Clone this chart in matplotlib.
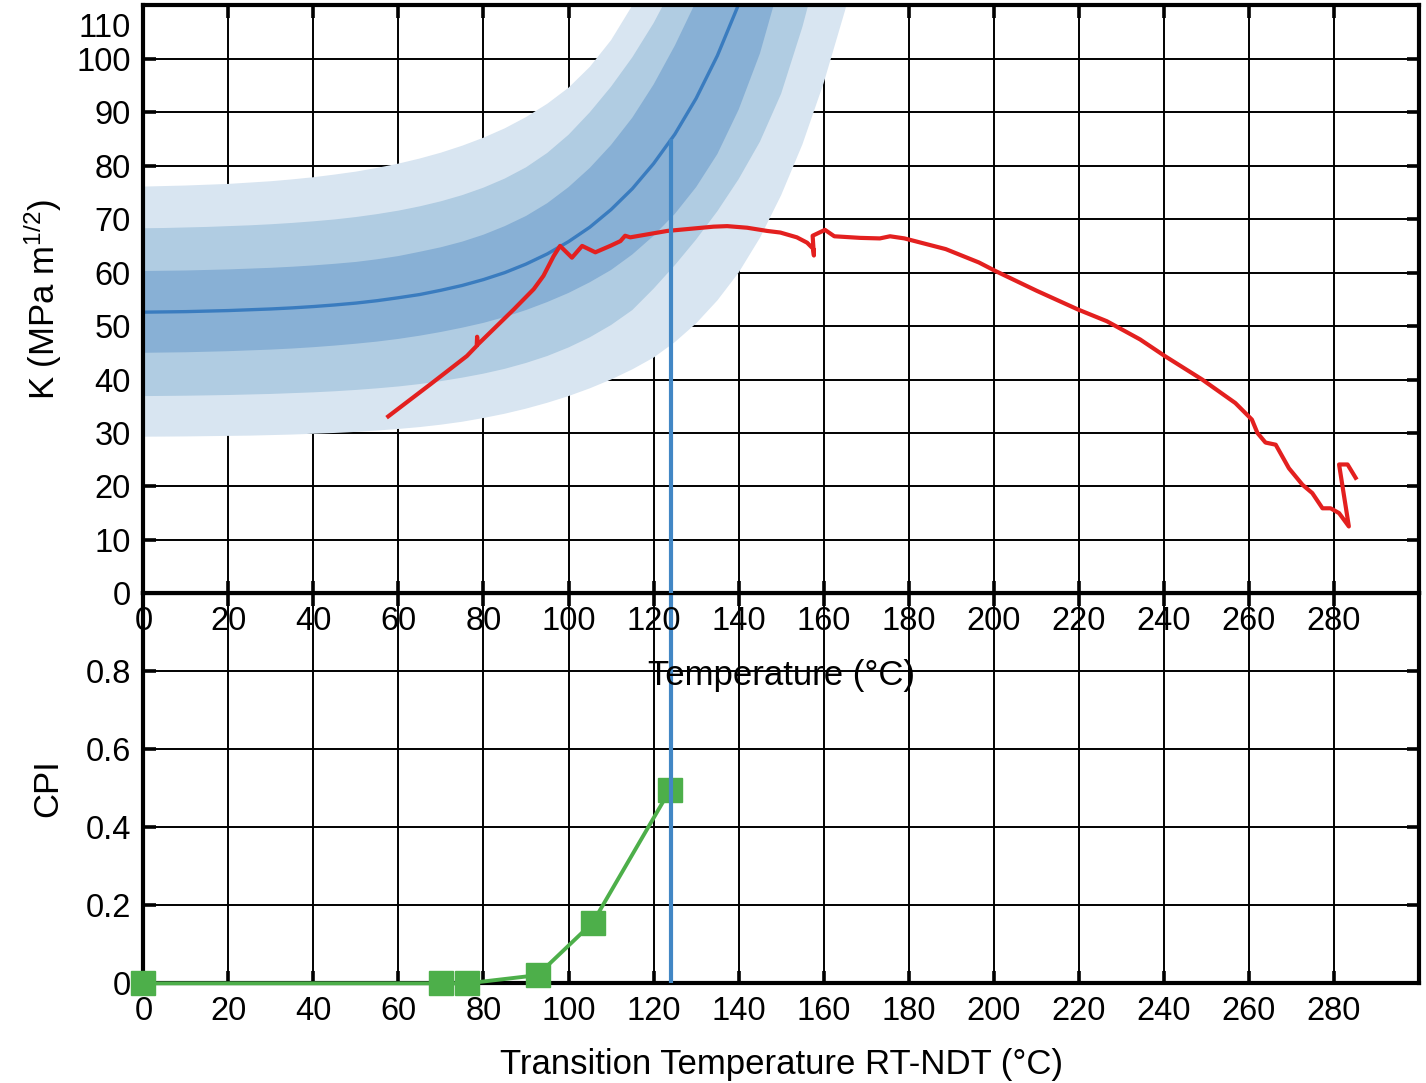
import matplotlib
matplotlib.use("Agg")
import matplotlib.pyplot as plt
from matplotlib.transforms import ScaledTranslation

plt.rcParams['font.family'] = ['Liberation Sans', 'DejaVu Sans']
plt.rcParams['mathtext.default'] = 'regular'
plt.rcParams['font.size'] = 25

# temperatures at which the band curves were read (5 degC steps)
band_t = [0, 5, 10, 15, 20, 25, 30, 35, 40, 45, 50, 55, 60, 65, 70, 75, 80, 85, 90, 95,
          100, 105, 110, 115, 120, 125, 130, 135, 140, 145, 150, 155, 160, 165, 170]

# master curve (median)
med_k = [52.6, 52.65, 52.7, 52.8, 52.9, 53.05, 53.2, 53.4, 53.65, 53.95, 54.3, 54.75, 55.3, 55.9,
         56.7, 57.6, 58.7, 60.0, 61.6, 63.5, 65.8, 68.5, 71.8, 75.7, 80.4, 85.9, 92.6, 100.6,
         110.2, 121.7]

# band edges: outer / middle / inner, upper and lower
outer_up = [76.1, 76.2, 76.3, 76.45, 76.6, 76.85, 77.1, 77.45, 77.85, 78.35, 78.9, 79.6, 80.4,
            81.35, 82.45, 83.75, 85.25, 87.0, 89.1, 91.6, 94.6, 98.5, 103.5, 110.0, 118.0]
outer_lo = [29.3, 29.32, 29.35, 29.4, 29.45, 29.5, 29.6, 29.7, 29.85, 30.0, 30.2, 30.45, 30.75,
            31.1, 31.55, 32.1, 32.8, 33.6, 34.55, 35.65, 36.9, 38.35, 40.0, 41.9, 44.1, 47.0,
            50.5, 54.8, 60.0, 66.5, 74.5, 84.0, 95.5, 109.0, 125.0]
mid_up = [68.3, 68.35, 68.45, 68.55, 68.7, 68.85, 69.05, 69.3, 69.6, 69.95, 70.4, 70.95, 71.6,
          72.4, 73.35, 74.5, 75.9, 77.6, 79.7, 82.4, 85.8, 90.0, 94.8, 100.3, 106.7, 114.2]
mid_lo = [36.9, 36.93, 36.97, 37.03, 37.1, 37.2, 37.3, 37.45, 37.6, 37.8, 38.05, 38.35, 38.7,
          39.15, 39.7, 40.35, 41.1, 42.0, 43.1, 44.4, 46.0, 47.9, 50.2, 53.0, 57.0, 61.4, 66.2,
          71.5, 77.5, 84.5, 93.5, 106.0, 121.0]
in_up = [60.3, 60.35, 60.4, 60.5, 60.6, 60.75, 60.9, 61.1, 61.35, 61.65, 62.0, 62.5, 63.1, 63.9,
         64.75, 65.8, 67.1, 68.7, 70.6, 73.0, 76.0, 79.6, 83.9, 89.0, 95.2, 102.5, 110.8, 120.0]
in_lo = [45.0, 45.05, 45.1, 45.2, 45.3, 45.45, 45.6, 45.8, 46.05, 46.35, 46.7, 47.1, 47.6, 48.2,
         48.9, 49.7, 50.6, 51.7, 53.0, 54.5, 56.2, 58.2, 60.5, 63.4, 66.9, 71.0, 76.0, 82.2,
         90.5, 101.0, 115.0, 131.0]

# measured K vs temperature (red)
meas_t = [57.6, 67.5, 76.1, 78.4, 78.5, 78.6, 87.1, 91.8, 94.1, 96.5, 98.0, 100.8, 103.2, 106.3, 109.8,
          112.2, 113.3, 114.5, 123.2, 134.1, 137.3, 142.0, 146.7, 149.8, 153.7, 156.1, 157.6, 157.7,
          157.4, 160.3, 162.5, 168.6, 173.2, 175.6, 179.0, 188.7, 196.5, 200.4, 210.1, 219.8, 226.6,
          234.4, 240.2, 249.0, 256.8, 260.7, 262.0, 263.9, 266.3, 269.4, 272.6, 274.9, 277.3, 279.2,
          281.2, 283.5, 281.2, 283.2, 285.1]
meas_k = [33.1, 39.1, 44.4, 46.3, 48.0, 46.5, 53.1, 56.9, 59.4, 63.1, 65.0, 62.8, 65.0, 63.8, 65.0,
          65.9, 66.9, 66.6, 67.8, 68.6, 68.7, 68.4, 67.8, 67.5, 66.6, 65.6, 64.4, 63.2,
          66.9, 68.0, 66.8, 66.5, 66.4, 66.8, 66.4, 64.4, 61.9, 60.3, 56.6, 53.1, 50.9,
          47.5, 44.4, 40.0, 35.6, 32.5, 30.0, 28.2, 27.8, 23.4, 20.3, 18.75, 15.9, 15.9,
          15.0, 12.5, 24.1, 24.1, 21.6]

# CPI vs transition temperature (green)
rt_ndt = [0, 70, 76.2, 92.7, 105.7, 123.9]
cpi = [0, 0, 0, 0.021, 0.156, 0.497]

t_sel = 124
k_sel = 84.7

xticks = [0, 20, 40, 60, 80, 100, 120, 140, 160, 180, 200, 220, 240, 260, 280]
kticks = [0, 10, 20, 30, 40, 50, 60, 70, 80, 90, 100, 110]
cticks = [0, 0.2, 0.4, 0.6, 0.8, 1.0]
clabels = ['0', '0.2', '0.4', '0.6', '0.8', '']

c_light = '#d8e5f1'
c_mid = '#b0cce2'
c_dark = '#88b0d5'
c_med = '#3a7cbf'
c_vert = '#4287c5'
c_red = '#e3201f'
c_green = '#4daf4a'

fig = plt.figure(figsize=(14.26, 10.83), dpi=100)
ax2 = fig.add_axes([0.1005, 0.0920, 0.8946, 0.3601])
ax1 = fig.add_axes([0.1005, 0.4522, 0.8946, 0.5428])


def style(ax):
    ax.set_axisbelow(True)
    ax.grid(True, color='black', linewidth=1.4)
    ax.tick_params(direction='in', length=9, width=2.6, top=True, right=True,
                   labelsize=23.5, pad=9)
    for s in ax.spines.values():
        s.set_linewidth(3)
    ax.set_xlim(0, 300)
    ax.set_xticks(xticks)


def band(ax, up, lo, color, z):
    t_up = band_t[:len(up)]
    t_lo = band_t[:len(lo)]
    ax.fill(t_up + t_lo[::-1], up + lo[::-1], color=color, lw=0, zorder=z)


# top panel
style(ax1)
band(ax1, outer_up, outer_lo, c_light, 1)
band(ax1, mid_up, mid_lo, c_mid, 1.1)
band(ax1, in_up, in_lo, c_dark, 1.2)
ax1.plot(band_t[:len(med_k)], med_k, color=c_med, lw=2.4, zorder=2)
ax1.plot(meas_t, meas_k, color=c_red, lw=3, zorder=3)
ax1.plot([t_sel, t_sel], [0, k_sel], color=c_vert, lw=3, zorder=4)
ax1.set_ylim(0, 110)
ax1.set_yticks(kticks)
ax1.set_ylabel('K (MPa m$^{1/2}$)')
ax1.set_xlabel('Temperature (°C)')
ax1.xaxis.set_label_coords(0.5, -0.112)
ax1.yaxis.set_label_coords(-0.062, 0.5)
lab = ax1.get_yticklabels()[-1]
lab.set_transform(lab.get_transform() + ScaledTranslation(0, -0.2, fig.dpi_scale_trans))

# bottom panel
style(ax2)
ax2.plot(rt_ndt, cpi, color=c_green, lw=2.8, marker='s', markersize=17, clip_on=False, zorder=3)
ax2.axvline(t_sel, color=c_vert, lw=3, zorder=4)
ax2.set_ylim(0, 1.0)
ax2.set_yticks(cticks)
ax2.set_yticklabels(clabels)
ax2.set_ylabel('CPI')
ax2.set_xlabel('Transition Temperature RT-NDT (°C)')
ax2.xaxis.set_label_coords(0.5, -0.165)
ax2.yaxis.set_label_coords(-0.062, 0.5)

fig.savefig('out.png', dpi=100)
